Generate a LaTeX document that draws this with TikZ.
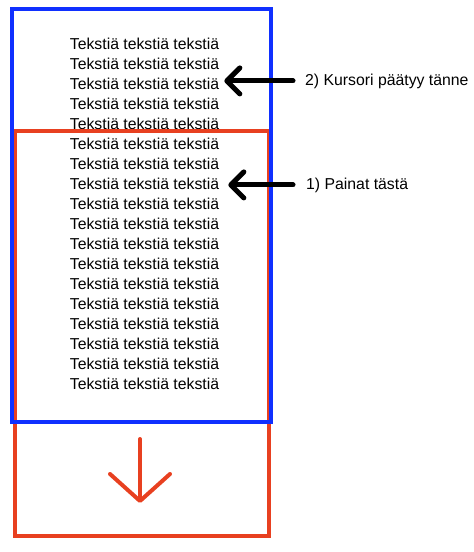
\documentclass[tikz,border=0pt]{standalone}
\usepackage{fontspec}
\setmainfont{Liberation Sans}
\usepackage{tikz}
\usetikzlibrary{arrows.meta, positioning}
\definecolor{viewblue}{RGB}{16,48,255}
\definecolor{viewred}{RGB}{232,64,32}

\begin{document}
\begin{tikzpicture}[
  x=1pt, y=-1pt,
  txt/.style={font=\fontsize{15.8}{20}\selectfont, inner sep=0pt},
  frame/.style={line width=4pt},
  pointer/.style={-{Straight Barb[length=13pt, width=26pt, round]},
                  line width=5pt, line cap=round},
  scrollarr/.style={-{Straight Barb[length=27pt, width=60pt, round]},
                    line width=4pt, line cap=round, viewred}]
  \useasboundingbox (0,0) rectangle (474,552);
  \foreach \i in {1,...,18}
    \node[txt, anchor=base] (l\i) at (144.5, 29.3+20*\i) {Tekstiä tekstiä tekstiä};
  \draw[frame, viewred] (15,130.5) rectangle (269,535.5);
  \draw[frame, viewblue] (12,9) rectangle (271,421.5);
  \node[txt, anchor=base west] (lab2) at (305,85) {2) Kursori päätyy tänne};
  \node[txt, anchor=base west] (lab1) at (306,189) {1) Painat tästä};
  \draw[pointer] ([xshift=-12pt]lab2.west) -- ([xshift=5pt]l3.east |- lab2.west);
  \draw[pointer] ([xshift=-13pt]lab1.west) -- ([xshift=9pt]l8.east |- lab1.west);
  \coordinate (dtop) at (140,439);
  \coordinate (dtip) at (140,503);
  \draw[scrollarr] (dtop) -- (dtip);
\end{tikzpicture}
\end{document}
